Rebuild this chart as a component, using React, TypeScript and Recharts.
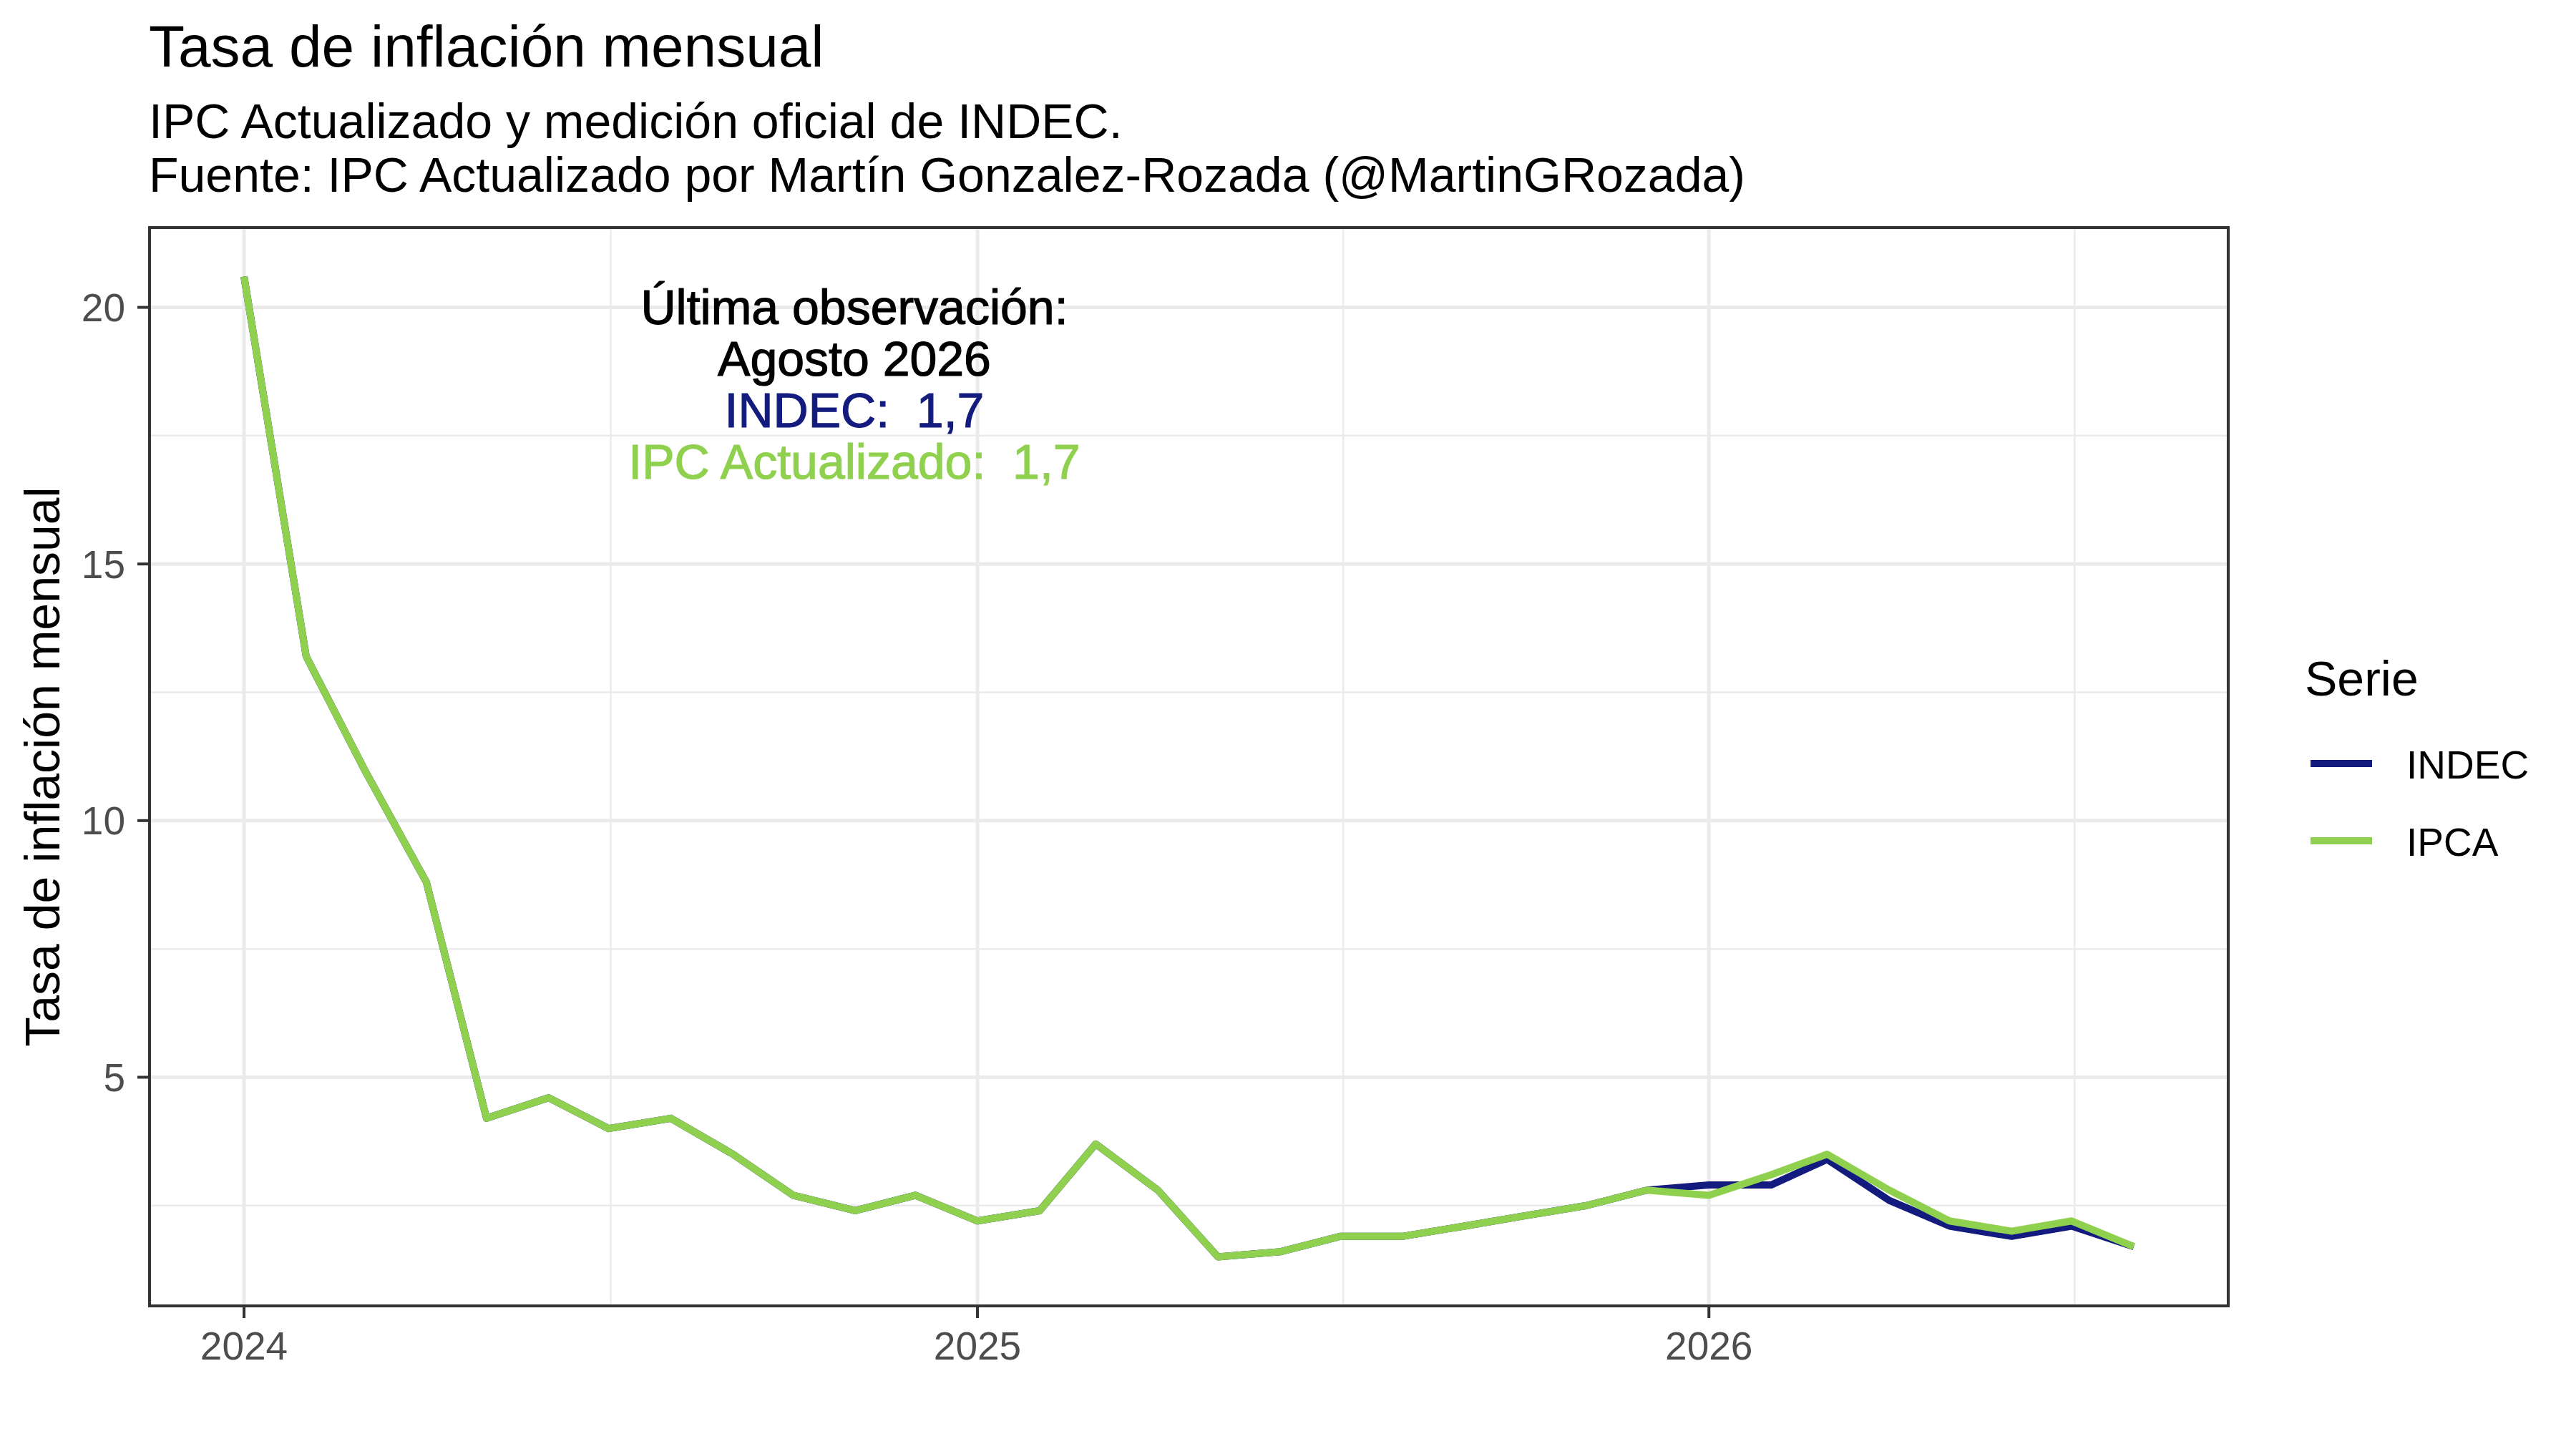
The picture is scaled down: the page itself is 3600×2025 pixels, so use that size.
import { LineChart, Line, XAxis, YAxis, CartesianGrid } from "recharts";

const months = [
    "2024-01", "2024-02", "2024-03", "2024-04", "2024-05", "2024-06",
    "2024-07", "2024-08", "2024-09", "2024-10", "2024-11", "2024-12",
    "2025-01", "2025-02", "2025-03", "2025-04", "2025-05", "2025-06",
    "2025-07", "2025-08", "2025-09", "2025-10", "2025-11", "2025-12",
    "2026-01", "2026-02", "2026-03", "2026-04", "2026-05", "2026-06",
    "2026-07", "2026-08",
];

const indec = [
    20.6, 13.2, 11.0, 8.8, 4.2, 4.6, 4.0, 4.2, 3.5, 2.7, 2.4, 2.7,
    2.2, 2.4, 3.7, 2.8, 1.5, 1.6, 1.9, 1.9, 2.1, 2.3, 2.5, 2.8,
    2.9, 2.9, 3.4, 2.6, 2.1, 1.9, 2.1, 1.7,
];

const ipca = [
    20.6, 13.2, 11.0, 8.8, 4.2, 4.6, 4.0, 4.2, 3.5, 2.7, 2.4, 2.7,
    2.2, 2.4, 3.7, 2.8, 1.5, 1.6, 1.9, 1.9, 2.1, 2.3, 2.5, 2.8,
    2.7, 3.1, 3.5, 2.8, 2.2, 2.0, 2.2, 1.7,
];

const yearTicks = ["2024-01", "2025-01", "2026-01"];
const yTicks = [5, 10, 15, 20];
const yMinorTicks = [2.5, 7.5, 12.5, 17.5];

const seriesNames = ["INDEC", "IPCA"];
const seriesColors = ["#131C7E", "#8FD14F"];

const FONT = "'Liberation Sans', Arial, Helvetica, sans-serif";

const W = 3600;
const H = 2025;
const PLOT_LEFT = 209;
const PLOT_TOP = 318;
const PLOT_RIGHT = 3114;
const PLOT_BOTTOM = 1825;
const Y_AXIS_W = 100;
const X_AXIS_H = 100;

const toTime = (m: string) => {
    const [y, mo] = m.split("-").map(Number);
    return Date.UTC(y, mo - 1, 1);
};

const data = months.map((m, i) => ({
    date: toTime(m),
    INDEC: indec[i],
    IPCA: ipca[i],
}));

// ggplot-style 5% expansion on both axes
const xs = data.map((d) => d.date);
const xMin = Math.min(...xs);
const xMax = Math.max(...xs);
const xPad = (xMax - xMin) * 0.05;
const allY = [...indec, ...ipca];
const yLo = Math.min(...allY);
const yHi = Math.max(...allY);
const yPad = (yHi - yLo) * 0.05;

const xTicks = yearTicks.map(toTime);
const xMinorTicks = [
    (xTicks[0] + xTicks[1]) / 2,
    (xTicks[1] + xTicks[2]) / 2,
    xTicks[2] + (xTicks[2] - xTicks[1]) / 2,
];

const fmt = (v: number) => String(v).replace(".", ",");

export default function App() {
    return (
        <div style={{ position: "absolute", left: 0, top: 0, width: W, height: H, background: "#fff" }}>
            <LineChart
                width={W}
                height={H}
                data={data}
                margin={{
                    top: PLOT_TOP,
                    right: W - PLOT_RIGHT,
                    bottom: H - PLOT_BOTTOM - X_AXIS_H,
                    left: PLOT_LEFT - Y_AXIS_W,
                }}
            >
                {/* minor grid */}
                <CartesianGrid
                    stroke="#EBEBEB"
                    strokeWidth={2.5}
                    horizontalValues={yMinorTicks}
                    verticalValues={xMinorTicks}
                />
                {/* major grid */}
                <CartesianGrid stroke="#EBEBEB" strokeWidth={5} />

                <XAxis
                    dataKey="date"
                    type="number"
                    domain={[xMin - xPad, xMax + xPad]}
                    allowDataOverflow
                    ticks={xTicks}
                    interval={0}
                    height={X_AXIS_H}
                    tickFormatter={(v: number) => String(new Date(v).getUTCFullYear())}
                    axisLine={false}
                    tickLine={{ stroke: "#333333", strokeWidth: 4 }}
                    tickSize={17}
                    tickMargin={19}
                    tick={{ fill: "#4D4D4D", fontSize: 55, fontFamily: FONT }}
                />
                <YAxis
                    type="number"
                    domain={[yLo - yPad, yHi + yPad]}
                    allowDataOverflow
                    ticks={yTicks}
                    interval={0}
                    width={Y_AXIS_W}
                    axisLine={false}
                    tickLine={{ stroke: "#333333", strokeWidth: 4 }}
                    tickSize={17}
                    tickMargin={17}
                    tick={{ fill: "#4D4D4D", fontSize: 55, fontFamily: FONT }}
                />

                <Line
                    type="linear"
                    dataKey="INDEC"
                    stroke={seriesColors[0]}
                    strokeWidth={10}
                    strokeLinejoin="round"
                    dot={false}
                    activeDot={false}
                    isAnimationActive={false}
                />
                <Line
                    type="linear"
                    dataKey="IPCA"
                    stroke={seriesColors[1]}
                    strokeWidth={10}
                    strokeLinejoin="round"
                    dot={false}
                    activeDot={false}
                    isAnimationActive={false}
                />
            </LineChart>

            {/* titles, panel border, annotation, legend */}
            <svg
                width={W}
                height={H}
                style={{ position: "absolute", left: 0, top: 0, pointerEvents: "none" }}
                fontFamily={FONT}
            >
                <text x={208} y={93} fontSize={82} fill="#000">
                    Tasa de inflación mensual
                </text>
                <text x={208} y={193} fontSize={68} fill="#000">
                    IPC Actualizado y medición oficial de INDEC.
                </text>
                <text x={208} y={268} fontSize={68} fill="#000">
                    Fuente: IPC Actualizado por Martín Gonzalez-Rozada (@MartinGRozada)
                </text>

                <text
                    x={83}
                    y={(PLOT_TOP + PLOT_BOTTOM) / 2}
                    fontSize={68}
                    fill="#000"
                    textAnchor="middle"
                    transform={`rotate(-90 83 ${(PLOT_TOP + PLOT_BOTTOM) / 2})`}
                >
                    Tasa de inflación mensual
                </text>

                <rect
                    x={PLOT_LEFT}
                    y={PLOT_TOP}
                    width={PLOT_RIGHT - PLOT_LEFT}
                    height={PLOT_BOTTOM - PLOT_TOP}
                    fill="none"
                    stroke="#333333"
                    strokeWidth={4}
                />

                <g textAnchor="middle" fontSize={68} strokeWidth={1.2}>
                    <text x={1194} y={453} fill="#000" stroke="#000">Última observación:</text>
                    <text x={1194} y={525} fill="#000" stroke="#000">Agosto 2026</text>
                    <text x={1194} y={597} fill={seriesColors[0]} stroke={seriesColors[0]}>
                        {`INDEC:\u00a0 ${fmt(indec[indec.length - 1])}`}
                    </text>
                    <text x={1194} y={669} fill={seriesColors[1]} stroke={seriesColors[1]}>
                        {`IPC Actualizado:\u00a0 ${fmt(ipca[ipca.length - 1])}`}
                    </text>
                </g>

                <text x={3221} y={972} fontSize={68} fill="#000">Serie</text>
                {seriesNames.map((name, i) => (
                    <g key={name}>
                        <line
                            x1={3229}
                            x2={3315}
                            y1={1067 + i * 108}
                            y2={1067 + i * 108}
                            stroke={seriesColors[i]}
                            strokeWidth={10}
                        />
                        <text x={3363} y={1088 + i * 108} fontSize={55} fill="#000">
                            {name}
                        </text>
                    </g>
                ))}
            </svg>
        </div>
    );
}
